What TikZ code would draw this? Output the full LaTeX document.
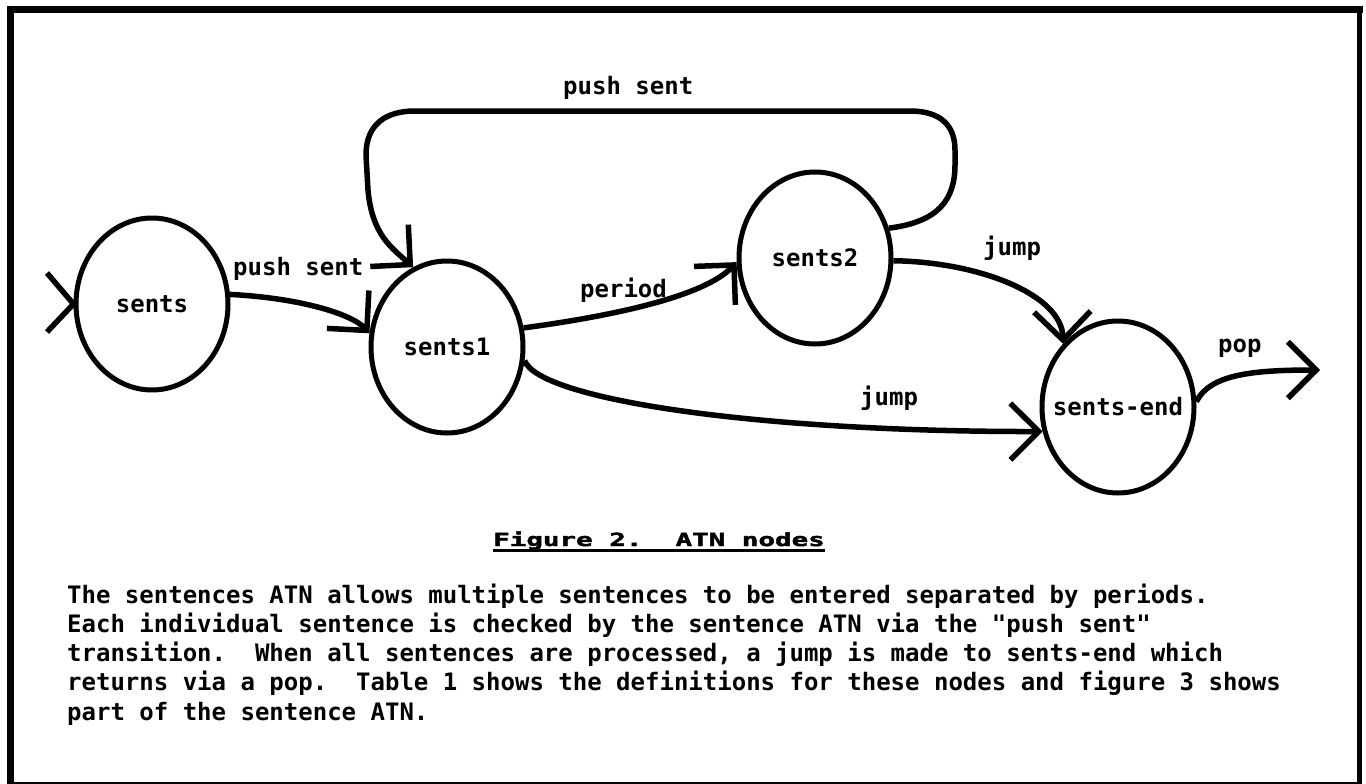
\documentclass[tikz,border=0pt]{standalone}
\usepackage{fontspec}
\setmonofont{DejaVu Sans Mono}
\newfontfamily\ttlfamily{DejaVu Sans Mono}[FakeStretch=1.53,FakeBold=2.5]
\usetikzlibrary{arrows.meta,shapes.geometric,calc}
\newcommand\lblfont{\ttfamily\bfseries\fontsize{24}{29}\selectfont}
\newcommand\ttlfont{\ttlfamily\bfseries\fontsize{18}{22}\selectfont}
\frenchspacing
\begin{document}
\begin{tikzpicture}[x=1pt,y=-1pt,
  state/.style={draw, ellipse, line width=5pt, minimum width=152pt, minimum height=172pt, inner sep=0pt, font=\lblfont},
  lbl/.style={font=\lblfont, inner sep=0pt, anchor=base west},
  arc/.style={-{Straight Barb[angle=90:40pt]}, line width=5.5pt},
  frame/.style={line cap=rect}
]
\useasboundingbox (0,0) rectangle (1366,784);
% frame
\draw[frame, line width=7pt] (10,783) -- (10,10) -- (1359,10);
\draw[frame, line width=5pt] (1359,10) -- (1359,783);
\draw[line width=2pt] (10,782.5) -- (1359,782.5);

% states
\node[state] (sents)  at (152,304) {\makebox[0pt]{sents}};
\node[state] (sents1) at (447,347) {\makebox[0pt]{sents1}};
\node[state] (sents2) at (815,258) {\makebox[0pt]{sents2}};
\node[state] (send)   at (1118,407) {\makebox[0pt]{sents-end}};

% start chevron
\coordinate (c1) at (47,273);
\coordinate (c2) at (47,332);
\draw[line width=5.5pt] (c1) -- (sents.west) -- (c2);

% transitions
\draw[arc] (sents.7) .. controls (300,298) and (352,314) .. (sents1.170);
\draw[arc] (sents1.14) .. controls (620,315) and (706,295) .. (sents2.183);
\draw[arc] (sents2.-2) .. controls (980,262) and (1062,295) .. (send.131);
\draw[arc] (sents1.-10) .. controls (540,400) and (760,432) .. (send.198);
\coordinate (popend) at (1320,370);
\draw[arc] (send.4) .. controls (1210,375) and (1250,370) .. (popend);
\draw[arc] (sents2.22) .. controls (938,222) and (955,200) .. (955,165) -- (955,150)
  .. controls (955,125) and (940,111) .. (910,111) -- (415,111)
  .. controls (385,111) and (366,125) .. (366,155) -- (368,190)
  .. controls (372,235) and (392,248) .. (sents1.113);

% labels
\node[lbl] (l1) at (233,275) {push sent};
\node[lbl] (l2) at (563,95) {push sent};
\node[lbl] (l3) at (580,297) {period};
\node[lbl] (l4) at (983,255) {jump};
\node[lbl] (l5) at (860,405) {jump};
\node[lbl] (l6) at (1218,352) {pop};

% caption
\node[font=\ttlfont, inner sep=0pt, anchor=base west] (title) at (493,546) {Figure 2.\ \ ATN nodes};
\draw[line width=3.5pt] ($(title.base west)+(0,4.5)$) -- ($(title.base east)+(0,4.5)$);

\node[lbl] (t1) at (67,603) {The sentences ATN allows multiple sentences to be entered separated by periods.};
\node[lbl] (t2) at (67,632.3) {Each individual sentence is checked by the sentence ATN via the "push sent"};
\node[lbl] (t3) at (67,661.6) {transition.\ \ When all sentences are processed, a jump is made to sents-end which};
\node[lbl] (t4) at (67,690.9) {returns via a pop.\ \ Table 1 shows the definitions for these nodes and figure 3 shows};
\node[lbl] (t5) at (67,720.2) {part of the sentence ATN.};
\end{tikzpicture}
\end{document}
